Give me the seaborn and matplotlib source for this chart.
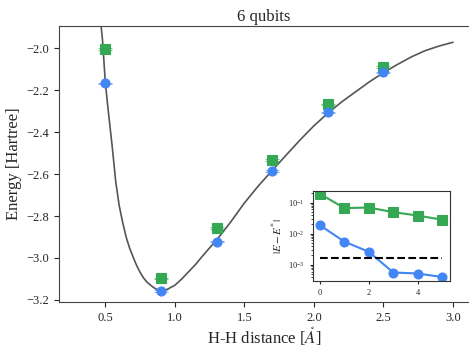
import numpy as np
import pandas as pd
import matplotlib
matplotlib.use("Agg")
import matplotlib.pyplot as plt
import seaborn as sns

# exact curve
curve_x = [0.46, 0.47, 0.48, 0.50, 0.52, 0.55, 0.575, 0.60, 0.625, 0.65, 0.675, 0.70,
           0.725, 0.75, 0.775, 0.80, 0.825, 0.85, 0.875, 0.90, 0.925, 0.95,
           1.00, 1.05, 1.10, 1.15, 1.20, 1.25, 1.30, 1.40, 1.50, 1.60, 1.70, 1.80, 1.90, 2.00,
           2.10, 2.20, 2.30, 2.40, 2.50, 2.60, 2.70, 2.80, 2.90, 3.00]
curve_y = [-1.84, -1.895, -1.96, -2.16, -2.29, -2.47, -2.635, -2.75, -2.83, -2.90, -2.953, -2.995,
           -3.035, -3.068, -3.095, -3.115, -3.129, -3.142, -3.151, -3.156, -3.155, -3.148,
           -3.13, -3.10, -3.065, -3.03, -2.99, -2.952, -2.915, -2.83, -2.738, -2.657, -2.583, -2.51, -2.438, -2.37,
           -2.31, -2.256, -2.208, -2.16, -2.117, -2.078, -2.042, -2.012, -1.99, -1.972]

# measured points
dist = [0.5, 0.9, 1.3, 1.7, 2.1, 2.5]
e_green = [-2.005, -3.097, -2.857, -2.533, -2.268, -2.089]
e_blue = [-2.168, -3.157, -2.922, -2.584, -2.306, -2.116]
err = [0.004, 0.004, 0.004, 0.004, 0.004, 0.004]

# inset: error vs step
steps = [0, 1, 2, 3, 4, 5]
d_green = [0.19, 0.066, 0.069, 0.049, 0.038, 0.028]
d_blue = [0.0186, 0.0055, 0.0026, 0.00056, 0.00052, 0.0004]
chem_acc = 0.0016

green = "#34A853"
blue = "#4285F4"

sns.set_style("ticks")
plt.rcParams["font.family"] = ["Liberation Serif", "DejaVu Serif"]
plt.rcParams["mathtext.fontset"] = "stix"

fig = plt.figure(figsize=(4.69, 3.48), dpi=100)
ax = fig.add_axes([0.126, 0.132, 0.874, 0.793])

curve_df = pd.DataFrame({"x": curve_x, "y": curve_y})
sns.lineplot(data=curve_df, x="x", y="y", color="#555555", lw=1.2, ax=ax, sort=False)

ax.errorbar(dist, e_green, yerr=err, fmt="s", color=green, ms=6.5, mew=0.8,
            ecolor=(0.2, 0.66, 0.33, 0.6), elinewidth=1, capsize=5, capthick=1, zorder=3)
ax.errorbar(dist, e_blue, yerr=err, fmt="o", color=blue, ms=6.5, mew=0.8,
            ecolor=(0.26, 0.52, 0.96, 0.6), elinewidth=1, capsize=5, capthick=1, zorder=3)

ax.set_xlim(0.168, 3.115)
ax.set_ylim(-3.21, -1.895)
ax.set_xticks([0.5, 1.0, 1.5, 2.0, 2.5, 3.0])
ax.set_yticks([-2.0, -2.2, -2.4, -2.6, -2.8, -3.0, -3.2])
ax.tick_params(labelsize=9, length=3.5)
ax.set_xlabel(r"H-H distance [$\mathring{A}$]", fontsize=12, labelpad=1)
ax.set_ylabel("Energy [Hartree]", fontsize=12, labelpad=3)
ax.set_title("6 qubits", fontsize=12, pad=4)
ax.spines["right"].set_visible(False)
for s in ["top", "left", "bottom"]:
    ax.spines[s].set_color("#444444")

# inset
ins = fig.add_axes([0.667, 0.193, 0.292, 0.259])
inset_df = pd.DataFrame({"step": steps + steps,
                         "err": d_green + d_blue,
                         "kind": ["g"] * 6 + ["b"] * 6})
sns.lineplot(data=inset_df[inset_df.kind == "g"], x="step", y="err", color=green,
             marker="s", ms=6.5, mec=green, lw=1.5, ax=ins)
sns.lineplot(data=inset_df[inset_df.kind == "b"], x="step", y="err", color=blue,
             marker="o", ms=6.5, mec=blue, lw=1.5, ax=ins)
ins.plot([0, 5], [chem_acc, chem_acc], ls="--", color="black", lw=1.5)
ins.set_yscale("log")
ins.set_ylim(10 ** -3.52, 10 ** -0.62)
ins.set_xlim(-0.29, 5.31)
ins.set_xticks([0, 2, 4])
ins.tick_params(labelsize=6, length=2.5)
ins.tick_params(which="minor", length=1.5)
ins.set_xlabel("")
ins.set_ylabel(r"$|E - E^{*}|$", fontsize=8, labelpad=2)
for s in ins.spines.values():
    s.set_color("#333333")

fig.savefig("out.png", dpi=100)
